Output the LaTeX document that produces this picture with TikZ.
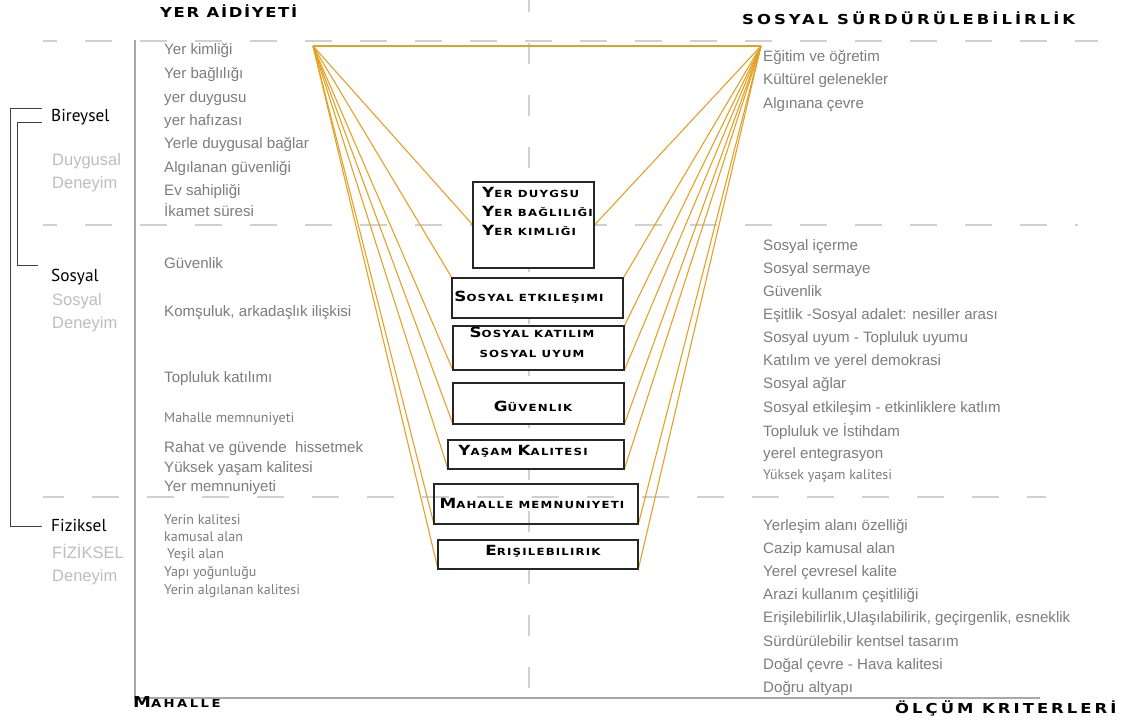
\documentclass[tikz,border=0pt]{standalone}
\usepackage{fontspec}
\setmainfont{Liberation Sans}
\newfontfamily\capfont[FakeStretch=1.2,LetterSpace=12]{DejaVu Sans}
\newfontfamily\capfontw[FakeStretch=1.2,LetterSpace=22]{DejaVu Sans}
\newfontfamily\myfont{PT Sans}
\definecolor{itemgray}{HTML}{7C7C7C}
\definecolor{lightlab}{HTML}{BDBDBD}
\definecolor{dashgray}{HTML}{D0D0D0}
\definecolor{axisgray}{HTML}{A8A8A8}
\definecolor{gold}{HTML}{E3A126}
\newcommand\Lg[1]{{\fontsize{14}{15}\selectfont #1}}
\newcommand\Sm[1]{{\fontsize{9.8}{11}\selectfont #1}}
\tikzset{
  item/.style={anchor=base west, inner sep=0, text=itemgray, font=\fontsize{15.1}{17}\selectfont},
  mitem/.style={anchor=base west, inner sep=0, text=itemgray, font=\myfont\fontsize{14}{16}\selectfont},
  blacklab/.style={anchor=base west, inner sep=0, text=black, font=\myfont\fontsize{17.3}{19}\selectfont},
  greylab/.style={anchor=base west, inner sep=0, text=lightlab, font=\fontsize{16.5}{19}\selectfont},
  header/.style={anchor=base west, inner sep=0, font=\capfont\bfseries\fontsize{13.7}{15}\selectfont},
  headerw/.style={anchor=base west, inner sep=0, font=\capfontw\bfseries\fontsize{13.7}{15}\selectfont},
  boxtext/.style={anchor=base, inner sep=0, font=\capfont\bfseries},
  boxtextw/.style={anchor=base west, inner sep=0, font=\capfont\bfseries},
  framebox/.style={draw=black!85, line width=1.3pt, fill=white, inner sep=0, anchor=north west},
  guide/.style={draw=dashgray, line width=1.4pt, dash pattern=on 27pt off 28pt},
  vguide/.style={draw=dashgray, line width=1.4pt, dash pattern=on 21pt off 31pt, dash phase=9pt},
  axis/.style={draw=axisgray, line width=1.2pt},
  bracket/.style={draw=black!75, line width=0.9pt},
  link/.style={draw=gold, line width=1.1pt}
}
\begin{document}
\begin{tikzpicture}[x=1pt,y=-1pt]
\useasboundingbox (0,0) rectangle (1126,722);
% guides
\coordinate (h1a) at (43,41); \coordinate (h1b) at (1098,41);
\coordinate (h2a) at (43,225); \coordinate (h2b) at (1078,225);
\coordinate (h3a) at (43,497); \coordinate (h3b) at (1046,497);
\draw[guide, dash phase=13pt] (h1a) -- (h1b);
\draw[guide, dash phase=13pt] (h2a) -- (h2b);
\draw[guide, dash phase=6pt] (h3a) -- (h3b);
\coordinate (vt) at (529,0); \coordinate (vb) at (529,698);
\draw[vguide] (vt) -- (vb);
% axes
\coordinate (ax0) at (135,40); \coordinate (ax1) at (135,698); \coordinate (ax2) at (1040,698);
\draw[axis] (ax0) -- (ax1) -- (ax2);
% bracket
\coordinate (bo1) at (42,108); \coordinate (bo2) at (10,108); \coordinate (bo3) at (10,526); \coordinate (bo4) at (42,526);
\draw[bracket] (bo1) -- (bo2) -- (bo3) -- (bo4);
\coordinate (bi1) at (42,122); \coordinate (bi2) at (17,122); \coordinate (bi3) at (17,265); \coordinate (bi4) at (38,265);
\draw[bracket] (bi1) -- (bi2) -- (bi3) -- (bi4);
% headers
\node[header] (hYA) at (160,18) {YER AİDİYETİ};
\node[headerw] (hSS) at (742,25) {SOSYAL SÜRDÜRÜLEBİLİRLİK};
\node[headerw] (hMA) at (133,707) {{\fontsize{15}{16}\selectfont M}{\fontsize{11}{12}\selectfont AHALLE}};
\node[headerw] (hOK) at (895,713) {ÖLÇÜM KRITERLERİ};
% left labels
\node[blacklab] (lB) at (51,122) {Bireysel};
\node[greylab] (lD1) at (52,166) {Duygusal};
\node[greylab] (lD2) at (52,189) {Deneyim};
\node[blacklab] (lS) at (51,281) {Sosyal};
\node[greylab] (lS1) at (52,305) {Sosyal};
\node[greylab] (lS2) at (52,328) {Deneyim};
\node[blacklab] (lF) at (51,531) {Fiziksel};
\node[greylab] (lF1) at (52,558) {FİZİKSEL};
\node[greylab] (lF2) at (52,581) {Deneyim};
% left items
\node[item] (a1) at (164,55) {Yer kimliği};
\node[item] (a2) at (164,79) {Yer bağlılığı};
\node[item] (a3) at (164,103) {yer duygusu};
\node[item] (a4) at (164,126) {yer hafızası};
\node[item] (a5) at (164,149) {Yerle duygusal bağlar};
\node[item] (a6) at (164,172) {Algılanan güvenliği};
\node[item] (a7) at (164,195) {Ev sahipliği};
\node[item] (a8) at (164,216) {İkamet süresi};
\node[item] (a9) at (164,268) {Güvenlik};
\node[item] (a10) at (164,316) {Komşuluk, arkadaşlık ilişkisi};
\node[item] (a11) at (164,382) {Topluluk katılımı};
\node[mitem] (a12) at (164,422) {Mahalle memnuniyeti};
\node[item] (a13) at (164,452) {Rahat ve güvende\ \ hissetmek};
\node[item] (a14) at (164,472) {Yüksek yaşam kalitesi};
\node[item] (a15) at (164,491) {Yer memnuniyeti};
\node[mitem] (a16) at (164,524) {Yerin kalitesi};
\node[mitem] (a17) at (164,541) {kamusal alan};
\node[mitem] (a18) at (167,558) {Yeşil alan};
\node[mitem] (a19) at (164,576) {Yapı yoğunluğu};
\node[mitem] (a20) at (164,594) {Yerin algılanan kalitesi};
% right items
\node[item] (r1) at (763,62) {Eğitim ve öğretim};
\node[item] (r2) at (763,85) {Kültürel gelenekler};
\node[item] (r3) at (763,109) {Algınana çevre};
\node[item] (r4) at (763,250) {Sosyal içerme};
\node[item] (r5) at (763,273) {Sosyal sermaye};
\node[item] (r6) at (763,296) {Güvenlik};
\node[item] (r7) at (763,319) {Eşitlik -Sosyal adalet: nesiller arası};
\node[item] (r8) at (763,342) {Sosyal uyum - Topluluk uyumu};
\node[item] (r9) at (763,365) {Katılım ve yerel demokrasi};
\node[item] (r10) at (763,388) {Sosyal ağlar};
\node[item] (r11) at (763,412) {Sosyal etkileşim - etkinliklere katlım};
\node[item] (r12) at (763,436) {Topluluk ve İstihdam};
\node[item] (r13) at (763,458) {yerel entegrasyon};
\node[mitem] (r14) at (763,479) {Yüksek yaşam kalitesi};
\node[item] (r15) at (763,530) {Yerleşim alanı özelliği};
\node[item] (r16) at (763,553) {Cazip kamusal alan};
\node[item] (r17) at (763,576) {Yerel çevresel kalite};
\node[item] (r18) at (763,599) {Arazi kullanım çeşitliliği};
\node[item] (r19) at (763,622) {Erişilebilirlik,Ulaşılabilirik, geçirgenlik, esneklik};
\node[item] (r20) at (763,646) {Sürdürülebilir kentsel tasarım};
\node[item] (r21) at (763,669) {Doğal çevre - Hava kalitesi};
\node[item] (r22) at (763,692) {Doğru altyapı};
% boxes
\node[framebox, minimum width=120pt, minimum height=85pt] (b1) at (473,182) {};
\node[framebox, minimum width=170pt, minimum height=39pt] (b2) at (452,278) {};
\node[framebox, minimum width=170pt, minimum height=43pt] (b3) at (453,326) {};
\node[framebox, minimum width=170pt, minimum height=40pt] (b4) at (453,383) {};
\node[framebox, minimum width=175pt, minimum height=28pt] (b5) at (448,440) {};
\node[framebox, minimum width=203pt, minimum height=39pt, fill=none] (b6) at (434,484) {};
\node[framebox, minimum width=199pt, minimum height=28pt] (b7) at (438,540) {};
% connectors
\coordinate (L) at (313,46);
\coordinate (R) at (761,46);
\draw[link] (L) -- (R);
\draw[link] (L) -- (b1.west);
\draw[link] (L) -- (b2.north west);
\draw[link] (L) -- (b3.south west);
\draw[link] (L) -- (b4.south west);
\draw[link] (L) -- (b5.south west);
\draw[link] (L) -- (b6.south west);
\draw[link] (L) -- (b7.south west);
\draw[link] (R) -- (b1.east);
\draw[link] (R) -- (b2.north east);
\draw[link] (R) -- (b3.north east);
\draw[link] (R) -- (b3.south east);
\draw[link] (R) -- (b4.south east);
\draw[link] (R) -- (b5.south east);
\draw[link] (R) -- (b6.south east);
\draw[link] (R) -- (b7.south east);
% redraw frames on top
\foreach \b in {b1,b2,b3,b4,b5,b6,b7} \draw[draw=black!85, line width=1.3pt] (\b.north west) rectangle (\b.south east);
% box texts
\node[boxtextw] (t1a) at (482,197) {\Lg{Y}\Sm{ER DUYGSU}};
\node[boxtextw] (t1b) at (482,216) {\Lg{Y}\Sm{ER BAĞLILIĞI}};
\node[boxtextw] (t1c) at (482,235) {\Lg{Y}\Sm{ER KIMLIĞI}};
\node[boxtext] (t2) at (529,301) {\Lg{S}\Sm{OSYAL ETKILEŞIMI}};
\node[boxtext] (t3a) at (532,337) {\Lg{S}\Sm{OSYAL KATILIM}};
\node[boxtext] (t3b) at (532,357) {\Sm{SOSYAL UYUM}};
\node[boxtext] (t4) at (533,411) {\Lg{G}\Sm{ÜVENLIK}};
\node[boxtext] (t5) at (523,455) {\Lg{Y}\Sm{AŞAM }\Lg{K}\Sm{ALITESI}};
\node[boxtext] (t6) at (532,508) {\Lg{M}\Sm{AHALLE MEMNUNIYETI}};
\node[boxtext] (t7) at (543,555) {\Lg{E}\Sm{RIŞILEBILIRIK}};
\end{tikzpicture}
\end{document}
